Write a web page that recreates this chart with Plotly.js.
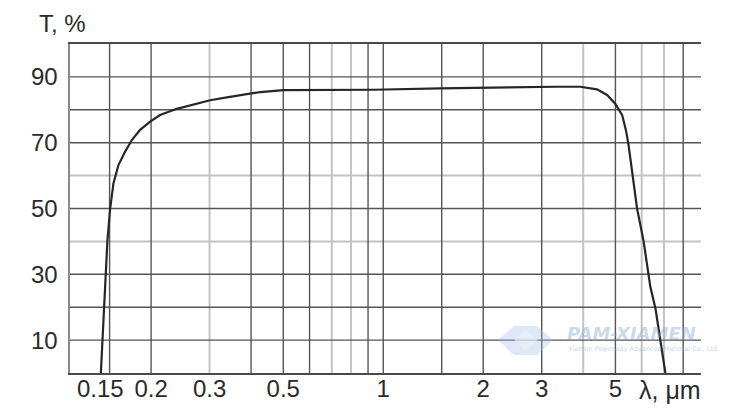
<!DOCTYPE html>
<html><head><meta charset="utf-8">
<script src="https://cdn.plot.ly/plotly-3.0.1.min.js"></script>
<style>html,body{margin:0;padding:0;background:#fff}#chart{width:753px;height:418px}</style>
</head><body><div id="chart"></div>
<script>
// Transmission spectrum
const wavelength = [0.1412,0.1427,0.1441,0.1457,0.1477,0.1506,0.1541,0.1595,0.1671,0.175,0.1854,0.1987,0.2129,0.239,0.2683,0.3012,0.3381,0.3796,0.4262,0.5008,0.7,0.935,1.485,2.0,2.772,3.3,3.92,4.11,4.40,4.72,5.00,5.24,5.38,5.48,5.585,5.81,6.08,6.37,6.60,6.83,7.07];
const transmission = [0,10,20,30,40,50,57.7,63.2,67.3,70.8,73.9,76.4,78.4,80.3,81.6,82.9,83.8,84.6,85.4,86.0,86.05,86.1,86.5,86.7,87.0,87.0,87.0,86.7,86.2,84.5,81.8,78.4,73.75,69.1,62.8,50,40,26.2,19.6,10.3,0];

const darkGridX = [0.15,0.2,0.4,0.5,0.6,0.9,1,1.5,2,3,5,8];
const lightGridX = [0.3,0.7,0.8,4,6,7];
const darkGridY = [10,20,30,50,70,80,90];
const lightGridY = [40,60];

const xTickVals = [0.2,0.3,0.5,1,2,3,5];
const xTickText = ['0.2','0.3','0.5','1','2','3','5'];
const firstXTick = 0.15, firstXTickText = '0.15';
const yTickVals = [10,30,50,70,90];
const yTickText = ['10','30','50','70','90'];

const xRange = [0.114, 9.05];
const yRange = [0, 100];

const FONT = 'Liberation Sans, Arial, Helvetica, sans-serif';
const W = 753, H = 418, M = {l:70, r:52, t:44, b:45};
const pw = W - M.l - M.r, ph = H - M.t - M.b;
const px2paperX = p => (p - M.l) / pw;
const px2paperY = p => (H - M.b - p) / ph;

function vLines(vals){ const x=[],y=[]; vals.forEach(v=>{x.push(v,v,null); y.push(yRange[0],yRange[1],null);}); return {x,y}; }
function hLines(vals){ const x=[],y=[]; vals.forEach(v=>{x.push(xRange[0],xRange[1],null); y.push(v,v,null);}); return {x,y}; }

const lightV = vLines(lightGridX), lightH = hLines(lightGridY);
const darkV = vLines(darkGridX), darkH = hLines(darkGridY);
const LIGHT = '#c3c3c3', DARK = '#555555';

const traces = [
  {x: lightV.x, y: lightV.y, mode:'lines', line:{color:LIGHT, width:2}, hoverinfo:'skip', showlegend:false},
  {x: lightH.x, y: lightH.y, mode:'lines', line:{color:LIGHT, width:2}, hoverinfo:'skip', showlegend:false},
  {x: darkV.x, y: darkV.y, mode:'lines', line:{color:DARK, width:1.4}, hoverinfo:'skip', showlegend:false},
  {x: darkH.x, y: darkH.y, mode:'lines', line:{color:DARK, width:1.4}, hoverinfo:'skip', showlegend:false},
  {x: wavelength, y: transmission, mode:'lines', line:{color:'#262626', width:2.2}, showlegend:false}
];

// watermark logo (hexagon) in pixel space
function pathFrom(pts){ return 'M' + pts.map(p => px2paperX(p[0]).toFixed(4)+','+px2paperY(p[1]).toFixed(4)).join(' L') + ' Z'; }
const logoOuter = [[498,340],[514,326],[537,326],[553,340],[537,355],[514,355]];
const logoInner = [[514,340],[526,330],[538,340],[526,351]];

const layout = {
  width: W, height: H, margin: M,
  paper_bgcolor:'#fff', plot_bgcolor:'#fff',
  font:{family:FONT, size:24, color:'#2a2a2a'},
  xaxis:{type:'log', range: xRange.map(Math.log10), tickvals: xTickVals, ticktext: xTickText,
    showgrid:false, zeroline:false, showline:true, mirror:true, linecolor:'#4a4a4a', linewidth:2,
    ticks:'', ticklabelstandoff:-7, tickfont:{family:FONT, size:24, color:'#2a2a2a'}},
  yaxis:{range: yRange, tickvals: yTickVals, ticktext: yTickText,
    showgrid:false, zeroline:false, showline:true, linecolor:'#8a8a8a', linewidth:2.5,
    ticks:'', ticklabelstandoff:5, tickfont:{family:FONT, size:24, color:'#2a2a2a'}},
  yaxis2:{range: yRange, overlaying:'y', side:'right', showgrid:false, zeroline:false,
    showticklabels:false, showline:true, linecolor:'#333', linewidth:2},
  annotations:[
    {text:'T, %', xref:'paper', yref:'paper', x:px2paperX(37), y:px2paperY(23), xanchor:'left', yanchor:'middle', showarrow:false, font:{family:FONT, size:24, color:'#2a2a2a'}},
    {text:'λ, μm', xref:'paper', yref:'paper', x:px2paperX(637), y:px2paperY(390), xanchor:'left', yanchor:'middle', showarrow:false, font:{family:FONT, size:25, color:'#2a2a2a'}},
    {text:firstXTickText, xref:'x', yref:'paper', x:Math.log10(firstXTick), xshift:-9, y:px2paperY(388), xanchor:'center', yanchor:'middle', showarrow:false, font:{family:FONT, size:24, color:'#2a2a2a'}},
    {text:'<b><i>PAM-XIAMEN</i></b>', xref:'paper', yref:'paper', x:px2paperX(565), y:px2paperY(333), xanchor:'left', yanchor:'middle', showarrow:false, font:{family:'DejaVu Sans, sans-serif', size:18, color:'rgba(140,170,215,0.45)'}},
    {text:'Xiamen Powerway Advanced Material Co., Ltd.', xref:'paper', yref:'paper', x:px2paperX(566), y:px2paperY(348.5), xanchor:'left', yanchor:'middle', showarrow:false, font:{family:'DejaVu Sans, sans-serif', size:6.5, color:'rgba(150,165,190,0.5)'}}
  ],
  shapes:[
    {type:'path', xref:'paper', yref:'paper', path:pathFrom(logoOuter), fillcolor:'rgba(160,190,230,0.35)', line:{width:0}, layer:'above'},
    {type:'path', xref:'paper', yref:'paper', path:pathFrom(logoInner), fillcolor:'rgba(235,242,252,0.6)', line:{width:0}, layer:'above'}
  ]
};

Plotly.newPlot('chart', traces, layout, {staticPlot:true, displayModeBar:false});
</script></body></html>
